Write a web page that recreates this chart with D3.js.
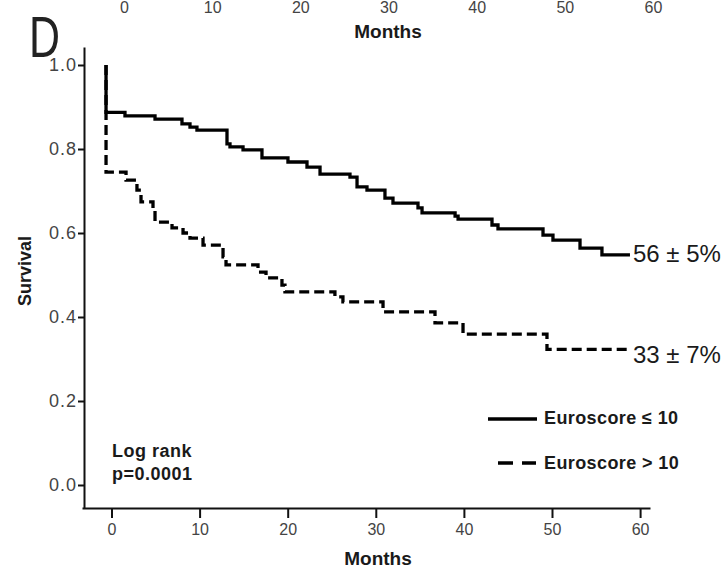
<!DOCTYPE html>
<html>
<head>
<meta charset="utf-8">
<script src="https://cdn.jsdelivr.net/npm/d3@7"></script>
<style>
  html, body { margin: 0; padding: 0; background: #fff; }
  svg { display: block; font-family: "Liberation Sans", Arial, Helvetica, sans-serif; }
</style>
</head>
<body>
<svg id="chart" width="726" height="572"></svg>
<script>
// ---- data ----
const xTicks = [0, 10, 20, 30, 40, 50, 60];
const yTicks = [0.0, 0.2, 0.4, 0.6, 0.8, 1.0];
const topTicks = [0, 10, 20, 30, 40, 50, 60];   // cut-off axis of the panel above

const lowTimes = [-0.62, -0.62, 1.53, 4.94, 8.00, 8.91, 9.70, 13.11, 13.45, 14.93, 17.08, 20.03, 22.19, 23.67, 27.07, 27.87, 29.00, 31.04, 31.95, 34.79, 35.25, 39.00, 39.34, 43.19, 43.87, 48.98, 50.11, 53.18, 55.67, 58.85];
const lowSurv  = [1.0, 0.887, 0.879, 0.871, 0.860, 0.852, 0.845, 0.812, 0.805, 0.798, 0.779, 0.769, 0.757, 0.740, 0.733, 0.710, 0.702, 0.683, 0.671, 0.660, 0.648, 0.640, 0.633, 0.619, 0.610, 0.595, 0.583, 0.564, 0.548, 0.548];

const highTimes = [-0.62, -0.62, 1.65, 2.89, 3.35, 4.71, 4.94, 6.87, 8.12, 8.91, 10.39, 12.66, 13.00, 16.63, 17.54, 19.35, 19.69, 25.36, 26.27, 30.82, 36.72, 39.90, 49.43, 58.63];
const highSurv  = [1.0, 0.745, 0.726, 0.702, 0.674, 0.655, 0.626, 0.612, 0.600, 0.588, 0.571, 0.543, 0.524, 0.507, 0.493, 0.476, 0.460, 0.448, 0.436, 0.412, 0.386, 0.359, 0.323, 0.323];

const seriesNames = ["Euroscore \u2264 10", "Euroscore > 10"];
const endLabels = ["56 \u00b1 5%", "33 \u00b1 7%"];

// ---- scales ----
const svg = d3.select("#chart");
const x = d3.scaleLinear().domain([-3.348, 61.124]).range([82, 650]);
const y = d3.scaleLinear().domain([-0.05476, 1.04286]).range([508, 47]);
const xTop = d3.scaleLinear().domain([0, 60]).range([124, 653]);

// ---- panel letter and cut-off top axis ----
svg.append("text").attr("transform", "translate(29,57) scale(0.74,1)")
  .attr("font-size", 58).attr("fill", "#222").text("D");

const topAxis = svg.append("g").attr("transform", "translate(0,2)")
  .call(d3.axisBottom(xTop).tickValues(topTicks).tickSize(0).tickPadding(0));
topAxis.select(".domain").remove();
topAxis.selectAll("text").attr("font-size", 16).attr("fill", "#444")
  .attr("font-family", "Liberation Sans, Arial, sans-serif");

svg.append("text").attr("x", 388).attr("y", 38).attr("text-anchor", "middle")
  .attr("font-size", 19).attr("font-weight", "bold").attr("fill", "#1a1a1a").text("Months");

// ---- axes ----
const gx = svg.append("g").attr("transform", "translate(0,508)")
  .call(d3.axisBottom(x).tickValues(xTicks).tickSize(10).tickSizeOuter(0).tickPadding(6).tickFormat(d3.format("d")));
gx.select(".domain").attr("stroke", "#111").attr("stroke-width", 2);
gx.selectAll(".tick line").attr("stroke", "#111").attr("stroke-width", 2);
gx.selectAll("text").attr("font-size", 16).attr("fill", "#444")
  .attr("font-family", "Liberation Sans, Arial, sans-serif");

const gy = svg.append("g").attr("transform", "translate(84,0)")
  .call(d3.axisLeft(y).tickValues(yTicks).tickSize(6).tickSizeOuter(0).tickPadding(1).tickFormat(d3.format(".1f")));
gy.select(".domain").attr("stroke", "#111").attr("stroke-width", 2);
gy.selectAll(".tick line").attr("stroke", "#111").attr("stroke-width", 2);
gy.selectAll("text").attr("font-size", 18).attr("fill", "#444").attr("letter-spacing", 1)
  .attr("font-family", "Liberation Sans, Arial, sans-serif");

svg.append("text").attr("x", 378).attr("y", 565).attr("text-anchor", "middle")
  .attr("font-size", 19).attr("font-weight", "bold").attr("fill", "#1a1a1a").text("Months");

svg.append("text").attr("transform", "translate(31,271) rotate(-90)").attr("text-anchor", "middle")
  .attr("font-size", 18).attr("font-weight", "bold").attr("fill", "#1a1a1a").text("Survival");

// ---- curves ----
const line = d3.line().x(d => x(d[0])).y(d => y(d[1])).curve(d3.curveStepAfter);
const lowPts = lowTimes.map((t, i) => [t, lowSurv[i]]);
const highPts = highTimes.map((t, i) => [t, highSurv[i]]);

svg.append("path").datum(highPts).attr("d", line).attr("fill", "none")
  .attr("stroke", "#000").attr("stroke-width", 3.3).attr("stroke-dasharray", "10,5");
svg.append("path").datum(lowPts).attr("d", line).attr("fill", "none")
  .attr("stroke", "#000").attr("stroke-width", 3.3);

// ---- end labels ----
const lastLow = lowPts[lowPts.length - 1], lastHigh = highPts[highPts.length - 1];
svg.append("text").attr("x", 633).attr("y", y(lastLow[1]) + 7).attr("font-size", 24)
  .attr("fill", "#1a1a1a").text(endLabels[0]);
svg.append("text").attr("x", 633).attr("y", y(lastHigh[1]) + 14).attr("font-size", 24)
  .attr("fill", "#1a1a1a").text(endLabels[1]);

// ---- legend ----
svg.append("line").attr("x1", 488).attr("x2", 537).attr("y1", 419).attr("y2", 419)
  .attr("stroke", "#000").attr("stroke-width", 3.3);
svg.append("line").attr("x1", 498).attr("x2", 536).attr("y1", 463).attr("y2", 463)
  .attr("stroke", "#000").attr("stroke-width", 3.3).attr("stroke-dasharray", "15,9");
svg.append("text").attr("x", 544).attr("y", 424).attr("font-size", 18).attr("font-weight", "bold")
  .attr("letter-spacing", 0.4).attr("fill", "#1a1a1a").text(seriesNames[0]);
svg.append("text").attr("x", 544).attr("y", 469).attr("font-size", 18).attr("font-weight", "bold")
  .attr("letter-spacing", 0.4).attr("fill", "#1a1a1a").text(seriesNames[1]);

// ---- log rank ----
svg.append("text").attr("x", 112).attr("y", 457).attr("font-size", 18).attr("font-weight", "bold")
  .attr("letter-spacing", 0.5).attr("fill", "#1a1a1a").text("Log rank");
svg.append("text").attr("x", 112).attr("y", 480).attr("font-size", 18).attr("font-weight", "bold")
  .attr("letter-spacing", 0.5).attr("fill", "#1a1a1a").text("p=0.0001");
</script>
</body>
</html>
